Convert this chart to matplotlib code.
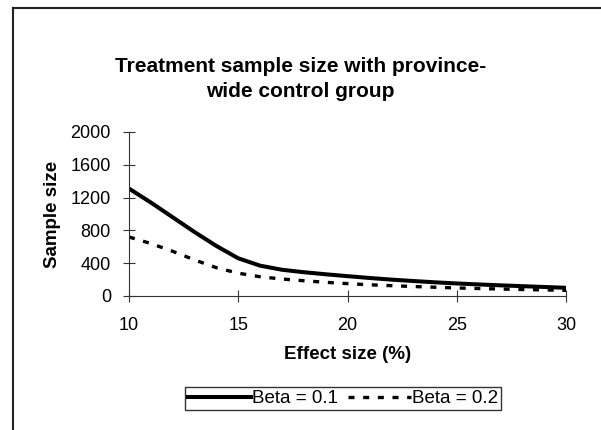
import matplotlib.pyplot as plt
from matplotlib.lines import Line2D

plt.rcParams['font.family'] = ['Liberation Sans', 'DejaVu Sans']

# Data
effect = [10, 11, 12, 13, 14, 15, 16, 17, 18, 19, 20,
          21, 22, 23, 24, 25, 26, 27, 28, 29, 30]
beta_01 = [1310, 1140, 960, 780, 610, 460, 370, 320, 290, 265, 242,
           220, 200, 183, 167, 153, 141, 130, 120, 110, 100]
beta_02 = [720, 640, 545, 440, 345, 278, 235, 207, 186, 167, 151,
           137, 126, 116, 107, 98, 91, 85, 79, 74, 69]

fig = plt.figure(figsize=(6.01, 4.30), dpi=100)
ax = fig.add_axes([129 / 601, 1 - 296 / 430, 437 / 601, 164 / 430])

ax.plot(effect, beta_01, color='black', lw=2.9, label='Beta = 0.1')
ax.plot(effect, beta_02, color='black', lw=2.4, linestyle=(0, (1.8, 2.6)),
        label='Beta = 0.2')

ax.set_xlim(10, 30)
ax.set_ylim(0, 2000)
ax.set_xticks([10, 15, 20, 25, 30])
ax.set_yticks([0, 400, 800, 1200, 1600, 2000])
ax.tick_params(direction='inout', length=8, width=0.8, labelsize=13,
               color='#333333')
ax.tick_params(axis='x', pad=11)
ax.tick_params(axis='y', pad=9)
for s in ['left', 'bottom']:
    ax.spines[s].set_linewidth(0.8)
    ax.spines[s].set_color('#333333')
ax.spines['top'].set_visible(False)
ax.spines['right'].set_visible(False)

ax.set_xlabel('Effect size (%)', fontsize=13.5, fontweight='bold', labelpad=9)
ax.set_ylabel('Sample size', fontsize=13.5, fontweight='bold', labelpad=7)

fig.text(0.5, 1 - 79 / 430, 'Treatment sample size with province-\nwide control group',
         ha='center', va='center', fontsize=15, fontweight='bold',
         linespacing=1.35)

leg = fig.legend(loc='center', bbox_to_anchor=(343 / 601, 1 - 398.5 / 430), ncol=2,
                 frameon=True, fancybox=False, fontsize=13.5,
                 handlelength=3.4, handletextpad=0.05, columnspacing=0.5,
                 borderpad=0.15, borderaxespad=0)
leg.get_frame().set_edgecolor('black')
leg.get_frame().set_linewidth(1)

# chart area border (left and top only visible)
fig.add_artist(Line2D([12.5 / 601, 12.5 / 601], [0, 1 - 8 / 430],
                      color='#222222', lw=1.5, transform=fig.transFigure))
fig.add_artist(Line2D([12.5 / 601, 1], [1 - 8 / 430, 1 - 8 / 430],
                      color='#222222', lw=1.5, transform=fig.transFigure))

fig.savefig('out.png', dpi=100)
